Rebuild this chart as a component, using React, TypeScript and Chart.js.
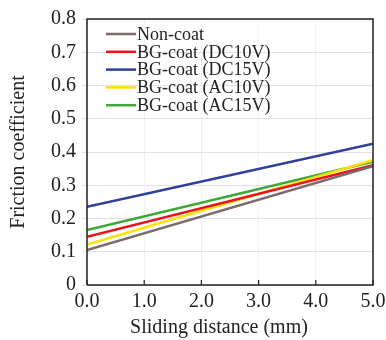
import React, { useEffect, useRef } from "react";
import { Chart, registerables } from "chart.js";

Chart.register(...registerables);

const xValues = [0, 5];
const seriesLabels = [
  "Non-coat",
  "BG-coat (DC10V)",
  "BG-coat (DC15V)",
  "BG-coat (AC10V)",
  "BG-coat (AC15V)",
];
const nonCoat = [0.105, 0.357];
const dc10 = [0.145, 0.36];
const dc15 = [0.235, 0.425];
const ac10 = [0.122, 0.375];
const ac15 = [0.165, 0.371];
const seriesColors = ["#7b6b6b", "#e8141c", "#2f3f9c", "#ffe000", "#3aa935"];
const yTicks = [0, 0.1, 0.2, 0.3, 0.4, 0.5, 0.6, 0.7, 0.8];
const xTicks = [0, 1, 2, 3, 4, 5];
const xTitle = "Sliding distance (mm)";
const yTitle = "Friction coefficient";

const FONT = "'Liberation Serif', 'Times New Roman', serif";

const boxAndLegend = {
  id: "boxAndLegend",
  afterDraw(chart: any) {
    const { ctx, chartArea } = chart;
    const { left, right, top, bottom } = chartArea;
    ctx.save();
    const xs = chart.scales.x;
    ctx.strokeStyle = "#222";
    ctx.lineWidth = 1.2;
    xs.ticks.forEach((t: any, i: number) => {
      const px = xs.getPixelForTick(i);
      ctx.beginPath();
      ctx.moveTo(px, bottom);
      ctx.lineTo(px, bottom - 5);
      ctx.stroke();
    });
    ctx.lineWidth = 1.5;
    ctx.strokeStyle = "#222";
    ctx.beginPath();
    ctx.moveTo(left, bottom);
    ctx.lineTo(left, top);
    ctx.lineTo(right, top);
    ctx.lineTo(right, bottom);
    ctx.lineTo(left, bottom);
    ctx.stroke();
    // x-axis title (slightly left of the plot centre, as in the original)
    ctx.font = `20px ${FONT}`;
    ctx.fillStyle = "#222";
    ctx.textAlign = "center";
    ctx.textBaseline = "middle";
    ctx.fillText(xTitle, (left + right) / 2 - 11, xs.bottom - 12);
    // legend
    ctx.font = `18px ${FONT}`;
    ctx.textBaseline = "middle";
    ctx.textAlign = "left";
    chart.data.datasets.forEach((ds: any, i: number) => {
      const y = top + 15 + i * 17.8;
      ctx.strokeStyle = ds.borderColor;
      ctx.lineWidth = 2.5;
      ctx.beginPath();
      ctx.moveTo(left + 19, y);
      ctx.lineTo(left + 49, y);
      ctx.stroke();
      ctx.fillStyle = "#222";
      ctx.fillText(ds.label, left + 50, y + 1);
    });
    ctx.restore();
  },
};

export default function App() {
  const ref = useRef<HTMLCanvasElement>(null);
  useEffect(() => {
    document.body.style.margin = "0";
    const all = [nonCoat, dc10, dc15, ac10, ac15];
    const chart = new Chart(ref.current!, {
      type: "line",
      data: {
        datasets: all.map((arr, i) => ({
          label: seriesLabels[i],
          data: xValues.map((x, j) => ({ x, y: arr[j] })),
          borderColor: seriesColors[i],
          backgroundColor: seriesColors[i],
          borderWidth: 2.5,
          pointRadius: 0,
          fill: false,
          tension: 0,
        })),
      },
      options: {
        animation: false,
        responsive: false,
        devicePixelRatio: 1,
        layout: { padding: { top: 19, right: 0, left: 0, bottom: 0 } },
        plugins: { legend: { display: false }, tooltip: { enabled: false } },
        scales: {
          x: {
            type: "linear",
            min: 0,
            max: 5,
            afterBuildTicks: (s: any) => {
              s.ticks = xTicks.map((v) => ({ value: v }));
            },
            afterFit: (s: any) => {
              s.height = 55;
              s.paddingRight = 13;
              s.paddingLeft = 0;
            },
            ticks: {
              color: "#222",
              font: { family: FONT, size: 20 },
              padding: 5,
              maxRotation: 0,
              callback: (v: any) => Number(v).toFixed(1),
            },
            grid: { color: "#f0f0f0", drawTicks: false, lineWidth: 1 },
            border: { display: false },
            title: { display: false, text: xTitle },
          },
          y: {
            type: "linear",
            min: 0,
            max: 0.8,
            afterBuildTicks: (s: any) => {
              s.ticks = yTicks.map((v) => ({ value: v }));
            },
            afterFit: (s: any) => {
              s.width = 87;
            },
            ticks: {
              color: "#222",
              font: { family: FONT, size: 20 },
              padding: 6,
              callback: (v: any) => (Number(v) === 0 ? "0" : Number(v).toFixed(1)),
            },
            grid: { color: "#e2e2e2", tickLength: 5, lineWidth: 1 },
            border: { display: false },
            title: {
              display: true,
              text: yTitle,
              color: "#222",
              font: { family: FONT, size: 20 },
              padding: { top: 7, bottom: 0 },
            },
          },
        },
      },
      plugins: [boxAndLegend],
    });
    return () => chart.destroy();
  }, []);
  return <canvas ref={ref} width={386} height={340} style={{ width: 386, height: 340, display: "block" }} />;
}
